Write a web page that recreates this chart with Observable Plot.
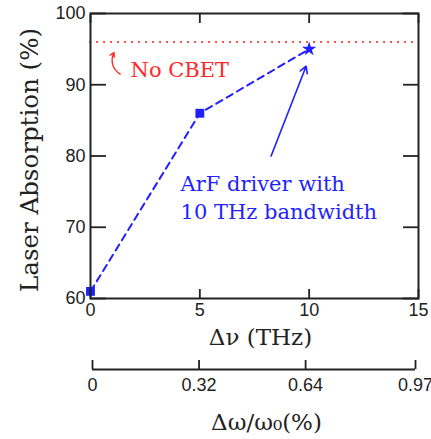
<!DOCTYPE html>
<html>
<head>
<meta charset="utf-8">
<script src="https://cdn.jsdelivr.net/npm/d3@7"></script>
<script src="https://cdn.jsdelivr.net/npm/@observablehq/plot@0.6"></script>
<style>
  body { margin: 0; background: #fff; }
  #chart { position: relative; width: 431px; height: 439px; overflow: hidden; background: #fff; }
  #chart svg { position: absolute; left: 0; overflow: hidden; }
  #chart .serif, #chart .serif text { font-family: "DejaVu Serif", "Liberation Serif", serif !important; }
</style>
</head>
<body>
<div id="chart"></div>
<script>
// ---- data ----
const bandwidthTHz = [0, 5, 10];
const absorption = [61, 86, 95];
const markerShape = ["square", "square", "star"];
const noCbetLevel = 96;
const xTicks = [0, 5, 10, 15];
const yTicks = [60, 70, 80, 90, 100];
const omegaTicks = [0, 0.32, 0.64, 0.97];
const omegaTickLabels = ["0", "0.32", "0.64", "0.97"];
const noCbetLabel = "No CBET";
const arfLabel = "ArF driver with\n10 THz bandwidth";
const arfLabelPos = {x: 4.12, y: 74.4};
const noCbetLabelPos = {x: 1.83, y: 92.05};
const arfArrow = {x1: 8.26, y1: 80.0, x2: 9.86, y2: 92.6};
const cbetArrow = {x1: 1.36, y1: 91.5, x2: 1.08, y2: 94.5};
const xLabel = "Δν (THz)";
const yLabel = "Laser Absorption (%)";
const omegaLabel = "Δω/ω₀(%)";

const points = bandwidthTHz.map((x, i) => ({x, y: absorption[i], shape: markerShape[i]}));
const squares = points.filter(d => d.shape === "square");
const stars = points.filter(d => d.shape === "star");

const BLUE = "#1f1fff";
const RED = "#ff2a2a";
const INK = "#222";
const SANS = "'Liberation Sans', Arial, sans-serif";
const SERIF = "'DejaVu Serif', 'Liberation Serif', serif";

const main = Plot.plot({
  width: 431,
  height: 350,
  marginLeft: 90,
  marginRight: 13,
  marginTop: 13,
  marginBottom: 52,
  x: {domain: [0, 15]},
  y: {domain: [60, 100]},
  style: {fontFamily: SANS, background: "transparent"},
  marks: [
    Plot.ruleY([noCbetLevel], {stroke: RED, strokeWidth: 2, strokeDasharray: "0.1,6.9", strokeLinecap: "round"}),
    Plot.line(points, {x: "x", y: "y", stroke: BLUE, strokeWidth: 2, strokeDasharray: "7,5"}),
    Plot.dot(squares, {x: "x", y: "y", symbol: "square", r: 5, fill: BLUE, stroke: "none"}),
    Plot.dot(stars, {x: "x", y: "y", symbol: "star", r: 4.5, fill: BLUE, stroke: "none"}),
    Plot.arrow([arfArrow], {x1: "x1", y1: "y1", x2: "x2", y2: "y2", stroke: BLUE, strokeWidth: 1.6, headLength: 7, bend: false}),
    Plot.arrow([cbetArrow], {x1: "x1", y1: "y1", x2: "x2", y2: "y2", stroke: RED, strokeWidth: 1.4, headLength: 5, bend: 45}),
    Plot.text([noCbetLabel], {x: noCbetLabelPos.x, y: noCbetLabelPos.y, text: d => d, fill: RED, fontSize: 21, fontFamily: SERIF, className: "serif", textAnchor: "start", lineAnchor: "middle"}),
    Plot.text([arfLabel], {x: arfLabelPos.x, y: arfLabelPos.y, text: d => d, fill: BLUE, fontSize: 21, fontFamily: SERIF, className: "serif", textAnchor: "start", lineAnchor: "middle", lineHeight: 1.35}),
    Plot.frame({stroke: INK, strokeWidth: 2}),
    Plot.axisY(yTicks, {anchor: "left", tickSize: 16, dx: 16, tickPadding: 5, fontSize: 18, fill: INK, stroke: INK, strokeWidth: 1.8, label: null}),
    Plot.axisY(yTicks, {anchor: "right", tickSize: 16, dx: -16, tickFormat: () => "", stroke: INK, strokeWidth: 1.8, label: null}),
    Plot.axisX(xTicks, {anchor: "top", tickSize: 9, dy: 9, tickFormat: () => "", stroke: INK, strokeWidth: 1.8, label: null}),
    Plot.axisX(xTicks, {anchor: "bottom", tickSize: 9, dy: -9, tickPadding: 5, fontSize: 18, fill: INK, stroke: INK, strokeWidth: 1.8, label: null}),
    Plot.text([xLabel], {frameAnchor: "bottom", text: d => d, dx: 6, dy: 39, fontSize: 23, fontFamily: SERIF, className: "serif", fill: INK, textAnchor: "middle", lineAnchor: "middle"}),
    Plot.text([yLabel], {frameAnchor: "left", text: d => d, rotate: -90, dx: -60, dy: 4, fontSize: 24.5, fontFamily: SERIF, className: "serif", fill: INK, textAnchor: "middle", lineAnchor: "middle"})
  ]
});
main.style.top = "0px";

const second = Plot.plot({
  width: 431,
  height: 89,
  marginLeft: 92,
  marginRight: 16,
  marginTop: 10,
  marginBottom: 70,
  x: {domain: [0, 0.97]},
  y: {domain: [0, 1], axis: null},
  style: {fontFamily: SANS, background: "transparent"},
  marks: [
    Plot.ruleY([0], {stroke: INK, strokeWidth: 1.8}),
    Plot.axisX(omegaTicks, {anchor: "bottom", tickSize: 9, dy: -9, tickPadding: 9, fontSize: 18, fill: INK, stroke: INK, strokeWidth: 1.8, label: null,
      tickFormat: (d) => omegaTickLabels[omegaTicks.indexOf(d)]}),
    Plot.text([omegaLabel], {frameAnchor: "bottom", text: d => d, dx: 12.5, dy: 53, fontSize: 23, fontFamily: SERIF, className: "serif", fill: INK, textAnchor: "middle", lineAnchor: "middle"})
  ]
});
second.style.top = "350px";

const chart = document.getElementById("chart");
chart.appendChild(main);
chart.appendChild(second);
</script>
</body>
</html>
